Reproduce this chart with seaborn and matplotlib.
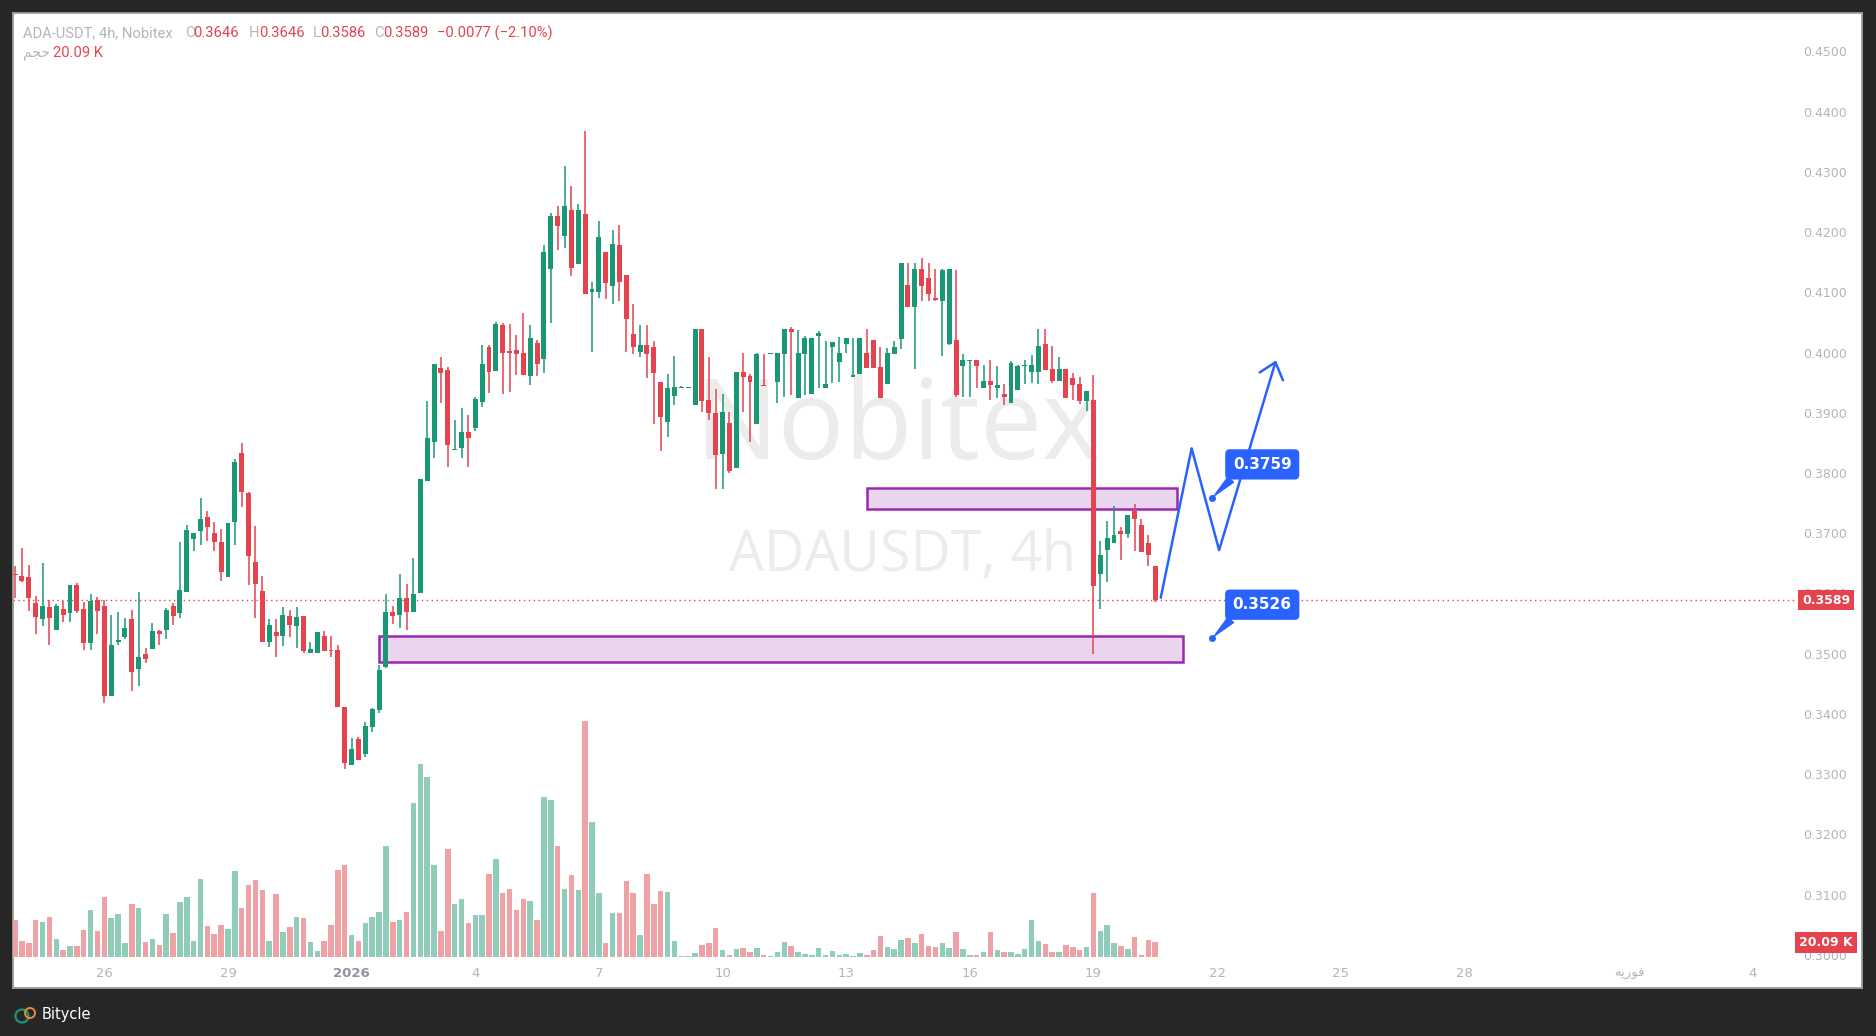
import numpy as np
import pandas as pd
import matplotlib
matplotlib.use("Agg")
import matplotlib.pyplot as plt
import seaborn as sns
from matplotlib.patches import Rectangle, Circle
from matplotlib.transforms import IdentityTransform

# ---- data: ADA-USDT 4h candles, index 0 = 26 Dec 00:00 ----
idx = np.arange(-13, 154)

opens = [
    .3632, .3629, .3627, .3584, .3558, .3577, .3540, .3574, .3567, .3614,
    .3574, .3518, .3589, .3579, .3430, .3520, .3528, .3558, .3475, .3500,
    .3508, .3538, .3540, .3579, .3567, .3603, .3691, .3704, .3727, .3701,
    .3685, .3628, .3718, .3834, .3767, .3652, .3604, .3520, .3536, .3530,
    .3562, .3546, .3562, .3502, .3502, .3529, .3506, .3506, .3411, .3316,
    .3359, .3334, .3379, .3407, .3478, .3569, .3564, .3593, .3569, .3600,
    .3787, .3852, .3974, .3971, .3839, .3841, .3868, .3874, .3918, .4010,
    .3970, .4046, .4002, .4004, .4000, .3961, .4016, .3990, .4138, .4226,
    .4194, .4236, .4147, .4230, .4100, .4101, .4167, .4110, .4179, .4129,
    .4031, .4001, .4012, .4010, .3951, .3884, .3928, .3942, .3942, .3913,
    .4039, .3921, .3900, .3831, .3883, .3808, .3968, .3961, .3881, .3947,
    .3998, .3952, .3998, .4039, .3925, .3998, .3931, .4027, .3942, .4009,
    .3984, .4015, .3960, .3964, .3999, .4021, .3976, .3948, .3998, .4022,
    .4112, .4075, .4139, .4124, .4091, .4085, .4015, .4021, .3977, .3986,
    .3987, .3941, .3953, .3942, .3931, .3917, .3938, .3977, .3968, .3968,
    .4015, .3973, .3953, .3973, .3957, .3948, .3919, .3921, .3632, .3673,
    .3684, .3704, .3699, .3737, .3713, .3684, .3646,
]
highs = [
    .3646, .3676, .3647, .3596, .3651, .3589, .3582, .3588, .3614, .3618,
    .3586, .3599, .3594, .3589, .3564, .3569, .3560, .3573, .3602, .3510,
    .3551, .3540, .3576, .3585, .3685, .3713, .3701, .3759, .3737, .3718,
    .3707, .3717, .3823, .3850, .3768, .3712, .3629, .3558, .3558, .3577,
    .3572, .3577, .3562, .3519, .3536, .3538, .3529, .3514, .3411, .3360,
    .3361, .3386, .3410, .3481, .3599, .3579, .3633, .3615, .3659, .3790,
    .3920, .3981, .3992, .3976, .3888, .3908, .3896, .3927, .4012, .4012,
    .4051, .4049, .4047, .4029, .4066, .4045, .4021, .4179, .4232, .4244,
    .4310, .4277, .4247, .4368, .4117, .4218, .4167, .4203, .4212, .4129,
    .4080, .4045, .4045, .4019, .3951, .3965, .3994, .3944, .3943, .4039,
    .4039, .3992, .3939, .3931, .3902, .3968, .4000, .3964, .4000, .3998,
    .3999, .3999, .4039, .4042, .4038, .4027, .4024, .4036, .4020, .4017,
    .4026, .4024, .4024, .4024, .4039, .4021, .4009, .4007, .4020, .4149,
    .4149, .4149, .4157, .4149, .4139, .4139, .4139, .4137, .3998, .3987,
    .3987, .3980, .3987, .3978, .3948, .3986, .3980, .3987, .3996, .4039,
    .4039, .4011, .3993, .3973, .3966, .3959, .3937, .3963, .3687, .3720,
    .3745, .3710, .3730, .3748, .3724, .3697, .3646,
]
lows = [
    .3592, .3619, .3571, .3532, .3546, .3514, .3540, .3552, .3552, .3568,
    .3506, .3506, .3533, .3418, .3430, .3514, .3525, .3438, .3447, .3485,
    .3508, .3514, .3525, .3548, .3560, .3603, .3671, .3681, .3687, .3671,
    .3621, .3628, .3681, .3743, .3614, .3560, .3520, .3511, .3495, .3513,
    .3527, .3510, .3502, .3501, .3502, .3504, .3495, .3411, .3309, .3316,
    .3324, .3329, .3370, .3402, .3476, .3550, .3543, .3539, .3569, .3600,
    .3787, .3825, .3917, .3810, .3839, .3825, .3810, .3870, .3910, .3933,
    .3970, .3932, .3935, .3963, .3963, .3947, .3961, .3966, .4049, .4171,
    .4174, .4127, .4147, .4098, .4001, .4091, .4089, .4080, .4086, .4001,
    .3998, .3993, .3958, .3881, .3836, .3860, .3913, .3942, .3942, .3913,
    .3902, .3888, .3773, .3773, .3800, .3808, .3902, .3851, .3881, .3945,
    .3998, .3917, .3926, .3930, .3925, .3930, .3931, .3942, .3942, .3950,
    .3952, .3999, .3960, .3964, .3975, .3975, .3925, .3948, .3998, .4006,
    .4075, .3973, .4085, .4086, .4086, .3995, .4013, .3926, .3927, .3927,
    .3942, .3941, .3922, .3924, .3913, .3917, .3938, .3948, .3950, .3948,
    .3971, .3950, .3953, .3924, .3922, .3915, .3903, .3500, .3575, .3619,
    .3684, .3656, .3692, .3671, .3669, .3646, .3586,
]
closes = [
    .3630, .3621, .3593, .3561, .3579, .3560, .3579, .3565, .3614, .3571,
    .3518, .3587, .3571, .3430, .3514, .3522, .3543, .3469, .3494, .3492,
    .3538, .3533, .3573, .3563, .3606, .3705, .3701, .3724, .3711, .3685,
    .3636, .3717, .3818, .3769, .3663, .3615, .3520, .3548, .3530, .3564,
    .3548, .3561, .3504, .3508, .3536, .3504, .3505, .3411, .3318, .3342,
    .3324, .3380, .3408, .3473, .3569, .3563, .3593, .3569, .3599, .3790,
    .3858, .3981, .3966, .3847, .3840, .3868, .3858, .3923, .3981, .3968,
    .4047, .4000, .4000, .3998, .3963, .4024, .3981, .4167, .4227, .4210,
    .4244, .4141, .4236, .4098, .4106, .4192, .4115, .4181, .4118, .4056,
    .4009, .4012, .3998, .3966, .3893, .3941, .3943, .3943, .3943, .4039,
    .3920, .3899, .3830, .3901, .3804, .3968, .3960, .3951, .3998, .3945,
    .3999, .3999, .4039, .4035, .3999, .4024, .4024, .4033, .3948, .4017,
    .3999, .4024, .3962, .4024, .3975, .3975, .3925, .3999, .4009, .4149,
    .4075, .4139, .4110, .4098, .4088, .4137, .4139, .3929, .3987, .3987,
    .3978, .3953, .3946, .3946, .3926, .3983, .3978, .3980, .3980, .4011,
    .3971, .3953, .3973, .3924, .3946, .3919, .3937, .3613, .3664, .3692,
    .3697, .3699, .3730, .3724, .3669, .3664, .3589,
]
# volume in thousands
volumes = [
    50.7, 22.0, 19.5, 50.7, 47.8, 54.7, 24.9, 9.7, 15.2, 15.2,
    37.0, 64.4, 35.7, 82.0, 53.7, 59.1, 19.5, 72.7, 67.4, 20.5,
    24.9, 16.5, 59.1, 33.2, 75.2, 82.0, 22.0, 106.9, 42.5, 31.7,
    43.9, 38.5, 117.7, 67.4, 98.6, 105.4, 91.7, 22.0, 86.4, 34.2,
    41.0, 54.7, 53.7, 20.5, 8.3, 22.0, 43.9, 119.1, 125.9, 30.2,
    22.0, 46.9, 54.7, 61.5, 151.7, 47.8, 50.7, 61.5, 210.4, 264.5,
    246.1, 125.2, 34.9, 147.5, 71.9, 79.3, 45.9, 57.0, 57.0, 113.3,
    133.4, 87.5, 92.7, 63.7, 79.3, 76.3, 50.4, 218.6, 214.1, 151.2,
    92.7, 111.8, 91.2, 322.3, 184.5, 87.5, 18.6, 60.0, 60.0, 103.8,
    87.5, 29.7, 113.3, 71.9, 89.7, 88.2, 21.5, 1.5, 1.5, 5.2,
    16.3, 18.6, 39.2, 8.9, 3.0, 10.4, 11.9, 6.7, 11.9, 3.0,
    1.5, 6.7, 20.6, 15.4, 7.1, 4.5, 3.3, 12.8, 2.6, 8.3,
    3.3, 4.5, 0.7, 5.7, 3.3, 9.7, 29.0, 14.2, 10.9, 23.2,
    26.4, 19.4, 31.6, 15.4, 14.2, 19.4, 12.8, 34.2, 10.4, 3.4,
    2.3, 6.3, 33.9, 9.2, 7.5, 6.3, 4.0, 10.4, 50.0, 21.3,
    17.2, 6.3, 7.5, 16.1, 13.3, 9.2, 13.3, 86.9, 35.1, 43.2,
    18.5, 14.4, 10.4, 27.1, 3.4, 23.0, 20.09,
]

# day ticks (candle index of the first 4h bar of that day)
date_pos = [0, 18, 36, 54, 72, 90, 108, 126, 144, 162, 180, 198, 222, 240]
feb = "\uFEEA\uFBFE\uFEAD\uFEEE\uFED3"  # فوریه in shaped (visual order) form
date_labels = ["26", "29", "2026", "4", "7", "10", "13", "16", "19", "22", "25", "28", feb, "4"]
price_ticks = np.arange(0.30, 0.4501, 0.01)

# supply / demand zones: (x0, x1, low, high)
zones = [(111.1, 156.2, 0.3741, 0.3775), (40.0, 157.1, 0.3487, 0.3529)]
# projected path
path_x = [153.8, 158.3, 162.3, 170.5]
path_y = [0.3593, 0.3841, 0.3672, 0.3984]
targets = [0.3759, 0.3526]
last_price = 0.3589
last_vol = "20.09 K"

UP, DOWN = "#1A9775", "#E5434D"
VUP, VDOWN = "#8FCDBA", "#EFA2A6"
GREY = "#B2B5BE"
BLUE = "#2962FF"

sns.set_theme(style="white")
plt.rcParams["font.family"] = ["DejaVu Sans"]

W, H = 1876, 1036
fig = plt.figure(figsize=(W / 100, H / 100), dpi=100, facecolor="#262626")
ax = fig.add_axes([13 / W, 1 - 988 / H, 1849 / W, 975 / H])
ax.set_facecolor("white")
xlim = (-13.3, 255.9)

o, h, l, c = map(np.array, (opens, highs, lows, closes))
up = c >= o
cols = np.where(up, UP, DOWN)

# watermark
ax.text(0.478, 0.572, "Nobitex", transform=ax.transAxes, ha="center", va="center",
        fontsize=80, color="#ECECEC", family="Open Sans", zorder=0.5)
ax.text(0.481, 0.443, "ADAUSDT, 4h", transform=ax.transAxes, ha="center", va="center",
        fontsize=40, color="#ECECEC", family="Open Sans", zorder=0.5)

# zones
for x0, x1, lo, hi in zones:
    ax.add_patch(Rectangle((x0, lo), x1 - x0, hi - lo, facecolor="#EAD5EE",
                           edgecolor="#9C27B0", lw=1.8, zorder=1))

# candles
ax.vlines(idx, l, h, colors=cols, lw=1.1, zorder=3)
body_lo = np.minimum(o, c)
body_h = np.maximum(np.abs(c - o), 0.00012)
ax.bar(idx, body_h, bottom=body_lo, width=0.72, color=cols, lw=0, zorder=4)

# last price line + label
ax.axhline(last_price, xmin=0, xmax=(1795 - 13) / 1849, color=DOWN, lw=1,
           ls=(0, (1, 2.5)), zorder=2)
ax.text(0.9805, last_price, f"{last_price:.4f}", transform=ax.get_yaxis_transform(),
        ha="center", va="center", color="white", fontsize=9, fontweight="bold",
        bbox=dict(boxstyle="square,pad=0.3", fc=DOWN, ec="none"), zorder=10, clip_on=False)

# projected path
ax.plot(path_x, path_y, color=BLUE, lw=1.8, zorder=6, solid_capstyle="round")
ax.plot([168.2, path_x[-1], 171.6], [0.3967, path_y[-1], 0.3954], color=BLUE, lw=1.8,
        zorder=6, solid_capstyle="round", solid_joinstyle="round")

# target callouts
for t in targets:
    ax.plot(161.3, t, "o", color=BLUE, ms=4, zorder=7)
    ax.annotate(f"{t:.4f}", xy=(161.3, t), xytext=(36, 24), textcoords="offset points",
                ha="center", va="center", color="white", fontsize=11, fontweight="bold",
                bbox=dict(boxstyle="round,pad=0.5,rounding_size=0.3", fc=BLUE, ec="none"),
                arrowprops=dict(arrowstyle="wedge,tail_width=0.5,shrink_factor=0.5",
                                fc=BLUE, ec=BLUE, relpos=(0.15, 0.2), shrinkA=0, shrinkB=2),
                zorder=8)

ax.set_xlim(*xlim)
ax.set_ylim(0.29449, 0.45639)
ax.set_xticks([])
ax.set_yticks(price_ticks)
ax.yaxis.set_major_formatter("{x:.4f}")
ax.yaxis.tick_right()
ax.tick_params(axis="y", length=0, pad=-42.5, labelsize=9, labelcolor=GREY)
for s in ax.spines.values():
    s.set_color("#9E9E9E")
    s.set_linewidth(1.3)

# date labels inside the panel
xt = ax.get_xaxis_transform()
for pos, lab in zip(date_pos, date_labels):
    ax.text(pos, 0.0144, lab, transform=xt, ha="center", va="center", fontsize=9.5,
            color="#8F939C" if lab == "2026" else GREY,
            fontweight="bold" if lab == "2026" else "normal")

# volume pane
vax = fig.add_axes([13 / W, 1 - 957 / H, 1849 / W, 250 / H])
vax.patch.set_alpha(0)
vol_df = pd.DataFrame({"x": idx, "vol": volumes, "dir": np.where(up, "up", "down")})
sns.barplot(data=vol_df, x="x", y="vol", hue="dir", palette={"up": VUP, "down": VDOWN},
            native_scale=True, width=0.8, dodge=False, errorbar=None, legend=False,
            saturation=1, linewidth=0, ax=vax)
vax.set_xlim(*xlim)
vax.set_ylim(0, 341.75)
vax.axis("off")

fig.text(1826 / W, 1 - 942.5 / H, last_vol, ha="center", va="center", color="white",
         fontsize=9, fontweight="bold",
         bbox=dict(boxstyle="square,pad=0.3", fc=DOWN, ec="none"))

# header legend
hdr = [(23, "ADA-USDT, 4h, Nobitex", GREY), (185, "O", GREY), (193, "0.3646", DOWN),
       (249, "H", GREY), (259, "0.3646", DOWN), (313, "L", GREY), (320, "0.3586", DOWN),
       (374, "C", GREY), (383, "0.3589", DOWN), (437, "\u22120.0077 (\u22122.10%)", DOWN)]
for xp, s, col in hdr:
    fig.text(xp / W, 1 - 33 / H, s, ha="left", va="center", color=col, fontsize=10.6,
             family="Roboto")
fig.text(23 / W, 1 - 53 / H, "\uFEE2\uFEA0\uFEA3", ha="left", va="center", color=GREY,
         fontsize=10)
fig.text(53 / W, 1 - 53 / H, "20.09 K", ha="left", va="center", color=DOWN, fontsize=10.6,
         family="Roboto")

# footer logo
fig.add_artist(Circle((22, H - 1016), 6.5, transform=IdentityTransform(), fill=False,
                      ec="#1A9775", lw=1.6))
fig.add_artist(Circle((30, H - 1013), 5, transform=IdentityTransform(), fill=False,
                      ec="#E8893A", lw=1.4))
fig.text(42 / W, 1 - 1015 / H, "Bitycle", ha="left", va="center", color="white",
         fontsize=10.5)

fig.savefig("out.png", dpi=100, facecolor=fig.get_facecolor())
